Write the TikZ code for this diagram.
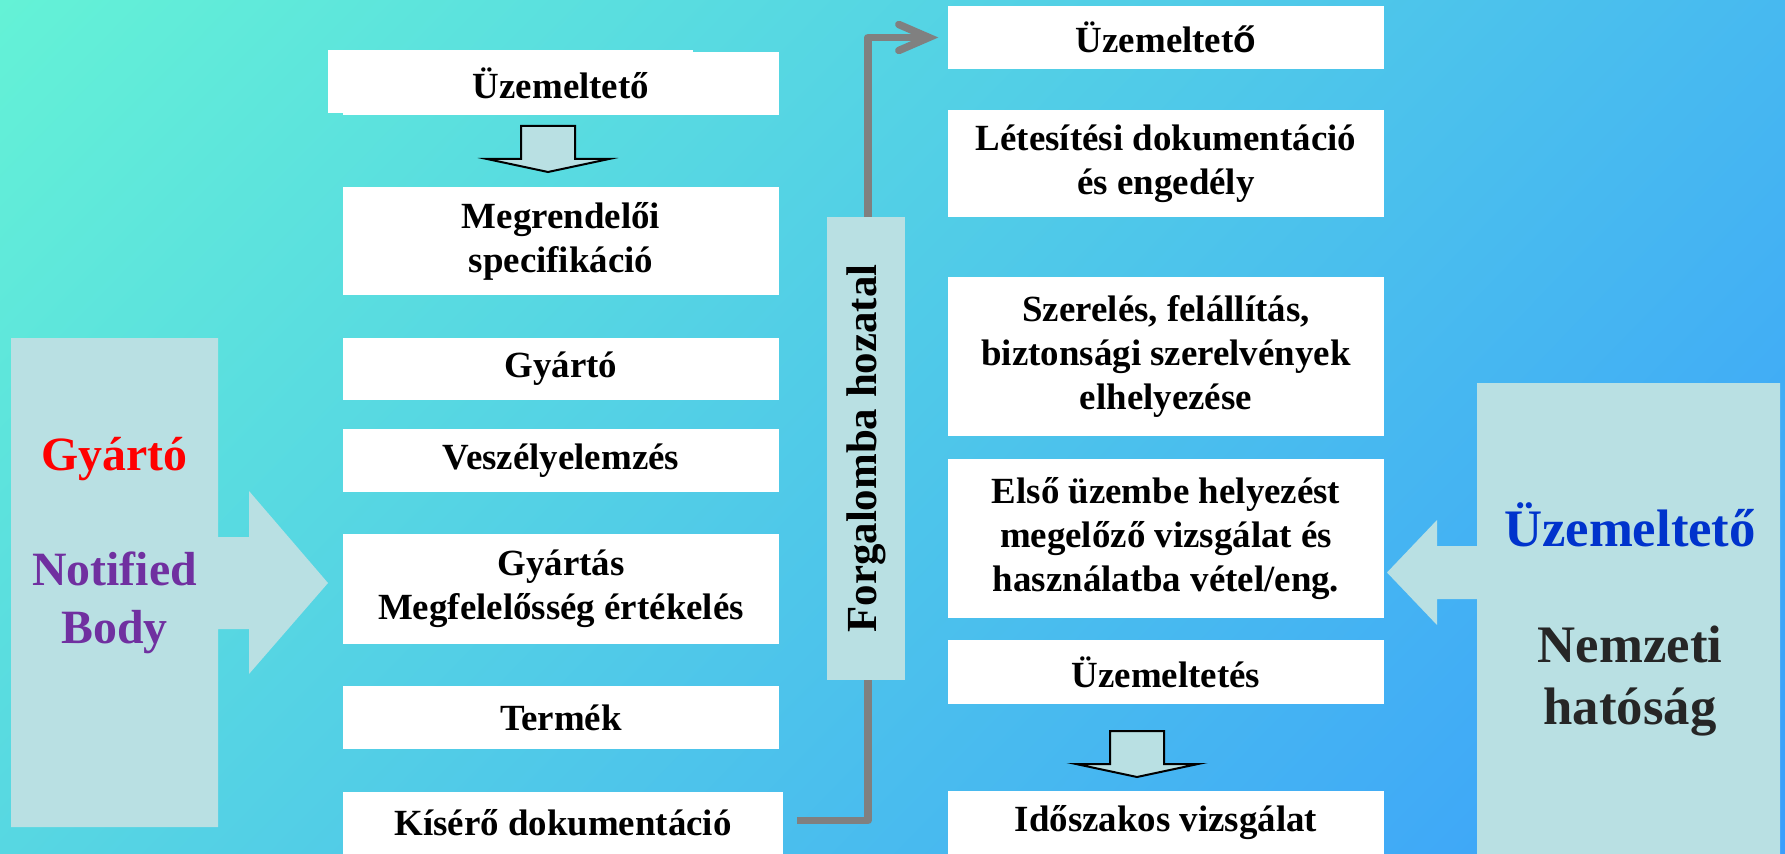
\documentclass[tikz,border=0pt]{standalone}
\usepackage{fontspec}
\setmainfont{Liberation Serif}
\newfontfamily\arialfam{Liberation Sans}
\usetikzlibrary{arrows.meta,shadings}

\definecolor{bgteal}{RGB}{100,242,214}
\definecolor{bgtr}{RGB}{71,185,240}
\definecolor{bgbl}{RGB}{87,215,226}
\definecolor{bgblue}{RGB}{58,158,252}
\definecolor{paleblue}{RGB}{185,224,227}
\definecolor{gyred}{RGB}{255,0,0}
\definecolor{nbpurple}{RGB}{112,48,160}
\definecolor{uzblue}{RGB}{0,51,204}
\definecolor{natgray}{RGB}{38,38,38}
\definecolor{conngray}{RGB}{128,128,128}

\newcommand{\boxfont}{\fontsize{10.5}{12.5}\selectfont\bfseries}
\newcommand{\forgfont}{\fontsize{12.2}{14}\selectfont\bfseries}
\newcommand{\leftfont}{\fontsize{13.6}{16.5}\selectfont\bfseries}
\newcommand{\rightfont}{\fontsize{15}{17.6}\selectfont\bfseries}

\tikzset{
  whitebox/.style={fill=white, inner sep=0pt, minimum width=43.6mm, align=center, font=\boxfont},
  paleblk/.style={fill=paleblue, draw=none},
  conn/.style={draw=conngray, line width=0.75mm, line join=round,
    -{Straight Barb[length=3mm,width=2.6mm,line cap=round]}},
  pics/downarr/.style={code={
    \draw[fill=paleblue, line width=0.2mm] (-27,0) -- (27,0) -- (27,33) -- (61,33)
      -- (0,46) -- (-61,33) -- (-27,33) -- cycle;}}
}

\begin{document}
\begin{tikzpicture}[x=0.1mm, y=-0.1mm]
  \useasboundingbox (0,0) rectangle (1785,854);
  \shade[upper left=bgteal, upper right=bgtr, lower left=bgbl, lower right=bgblue]
    (0,0) rectangle (1785,854);

  % left side: Gyarto / Notified Body
  \fill[paleblue] (11,338) -- (218,338) -- (218,537) -- (249,537) -- (249,491) -- (328,583)
    -- (249,674) -- (249,629) -- (218,629) -- (218,827) -- (11,827) -- cycle;
  \node[anchor=base, font=\leftfont, text=gyred] (gy) at (114.5,470) {Gyártó};
  \node[align=center, inner sep=0pt, font=\leftfont, text=nbpurple] (nb) at (114.5,602.5) {Notified\\Body};

  % left column
  \fill[white] (328,50) rectangle (693,113);
  \node[whitebox, minimum height=6.3mm] (uzl) at (561,83.5) {Üzemeltető};
  \pic at (548,126) {downarr};
  \node[whitebox, minimum height=10.8mm] (megr) at (561,241) {Megrendelői\\specifikáció};
  \node[whitebox, minimum height=6.2mm] (gyarto) at (561,369) {Gyártó};
  \node[whitebox, minimum height=6.3mm] (vesz) at (561,460.5) {Veszélyelemzés};
  \node[whitebox, minimum height=11mm] (gyartas) at (561,589) {Gyártás\\Megfelelősség értékelés};
  \node[whitebox, minimum height=6.3mm] (termek) at (561,717.5) {Termék};
  \node[whitebox, minimum height=6.2mm, minimum width=44mm] (kisero) at (563,823) {Kísérő dokumentáció};

  % right column
  \node[whitebox, minimum height=6.3mm] (uzr) at (1166,37.5) {Üzemeltet{\arialfam ő}};
  \node[whitebox, minimum height=10.7mm] (letes) at (1166,163.5) {Létesítési dokumentáció\\és engedély};
  \node[whitebox, minimum height=15.9mm] (szer) at (1166,356.5) {Szerelés, felállítás,\\biztonsági szerelvények\\elhelyezése};
  \node[whitebox, minimum height=15.9mm] (elso) at (1166,538.5) {Első üzembe helyezést\\megelőző vizsgálat és\\használatba vétel/eng.};
  \node[whitebox, minimum height=6.4mm] (uzem) at (1166,672) {Üzemeltetés};
  \pic at (1137,731) {downarr};
  \node[whitebox, minimum height=6.3mm] (idosz) at (1166,822.5) {Időszakos vizsgálat};

  % forgalomba hozatal
  \coordinate (k0) at (797,820.5);
  \coordinate (k1) at (868,820.5);
  \draw[conn, shorten >=0.9mm] (k0) -- (k1) |- (uzr.west);
  \node[paleblk, rotate=90, minimum width=46.3mm, minimum height=7.8mm, inner sep=0pt,
    font=\forgfont] (forg) at (866,448.5) {Forgalomba hozatal};

  % right side: Uzemelteto / Nemzeti hatosag
  \fill[paleblue] (1780,383) -- (1477,383) -- (1477,546) -- (1437,546) -- (1437,520) -- (1387,572.5)
    -- (1437,625) -- (1437,599) -- (1477,599) -- (1477,860) -- (1780,860) -- cycle;
  \node[anchor=base, font=\rightfont, text=uzblue] (uzt) at (1630,546) {Üzemeltető};
  \node[align=center, inner sep=0pt, font=\rightfont, text=natgray] (nh) at (1630,681) {Nemzeti\\hatóság};
\end{tikzpicture}
\end{document}
